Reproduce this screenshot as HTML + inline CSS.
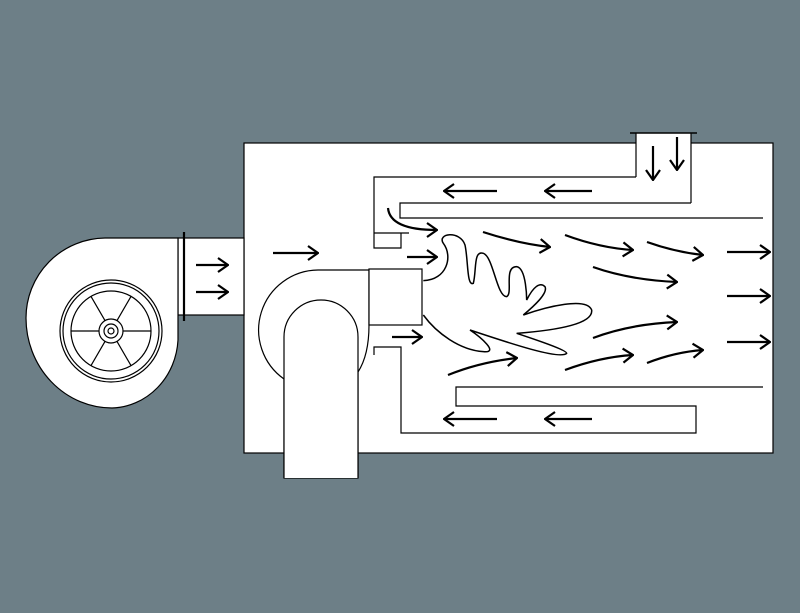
<!DOCTYPE html>
<html><head><meta charset="utf-8"><style>html,body{margin:0;padding:0;background:#6d7f87;}svg{display:block}</style></head>
<body>
<svg width="800" height="613" viewBox="0 0 800 613" xmlns="http://www.w3.org/2000/svg">
<defs>
<marker id="ah2" viewBox="0 0 12 16" markerWidth="12" markerHeight="16" refX="11" refY="8" orient="auto" markerUnits="userSpaceOnUse">
<path d="M1,1 L11,8 L1,15" fill="none" stroke="#000" stroke-width="2.2"/>
</marker>
</defs>
<g fill="#fff" stroke="#000" stroke-width="1.2">
<rect x="244" y="143" width="529" height="310"/>
<rect x="636" y="133" width="55" height="12" stroke="none"/>
<path d="M636,133 V177" fill="none"/>
<path d="M691,133 V203" fill="none"/>
<path d="M630,133 H697" fill="none" stroke-width="1.5"/>
<path d="M636,177 H374 V233 H409 M374,233 V248 H401 V233 M691,203 H400 V218 H763" fill="none"/>
<path d="M374,355 V347 H401 V433 H696 V406 H456 V387 H763" fill="none"/>
<rect x="178" y="238" width="66" height="77"/>
<path d="M178,238 H105 A80,80 0 0 0 26,318 A86,90 0 0 0 112,408 A68,72 0 0 0 178,340 Z"/>
<path d="M184,232 V321" stroke-width="2.2"/>
<circle cx="111" cy="331" r="51"/>
<circle cx="111" cy="331" r="48"/>
<circle cx="111" cy="331" r="40"/>
<circle cx="111" cy="331" r="12"/>
<circle cx="111" cy="331" r="7"/>
<circle cx="111" cy="331" r="3"/>
<path d="M99,331 H71 M123,331 H151 M105,320.6 L91,296.4 M117,320.6 L131,296.4 M105,341.4 L91,365.6 M117,341.4 L131,365.6" fill="none"/>
<path d="M369,270 H318 A60,60 0 0 0 284,379 V478 H358 V372 Q369,355 369,325 Z"/>
<path d="M284,478 V337 A37,37 0 0 1 358,337 V478" />
<rect x="369" y="269" width="53" height="56"/>
</g>
<g fill="none" stroke="#000" stroke-width="2.2" marker-end="url(#ah2)">
<path d="M196,265 H228"/><path d="M196,292 H228"/>
<path d="M273,253 H318"/>
<path d="M497,191 H444"/><path d="M592,191 H545"/>
<path d="M497,419 H444"/><path d="M592,419 H545"/>
<path d="M653,146 V180"/><path d="M677,137 V170"/>
<path d="M388,208 Q390,230 437,230"/>
<path d="M407,257 H437"/>
<path d="M392,337 H422"/>
<path d="M483,232 Q520,244 550,247"/>
<path d="M565,235 Q600,248 633,250"/>
<path d="M647,242 Q675,252 703,255"/>
<path d="M593,267 Q630,280 677,282"/>
<path d="M727,252 H770"/><path d="M727,296 H770"/><path d="M727,342 H770"/>
<path d="M593,338 Q630,324 677,322"/>
<path d="M565,370 Q600,357 633,355"/>
<path d="M647,363 Q675,352 703,350"/>
<path d="M448,375 Q480,362 517,358"/>
</g>
<g transform="translate(360 130) scale(0.33333)">
<path fill="none" stroke="#000" stroke-width="4.5" d="M190,452 C260,450 280,380 250,340 C230,310 300,300 315,345 C325,390 320,470 340,460 C350,420 340,360 370,370 C400,380 410,500 440,500 C460,490 430,410 470,410 C500,415 500,510 500,510 C520,470 540,455 555,470 C565,490 520,530 490,555 C560,530 680,500 695,540 C700,580 600,600 470,610 C530,630 620,660 620,670 C600,690 450,640 330,600 C360,620 420,670 370,665 C300,660 230,610 190,555"/>
</g>
</svg>
</body></html>
